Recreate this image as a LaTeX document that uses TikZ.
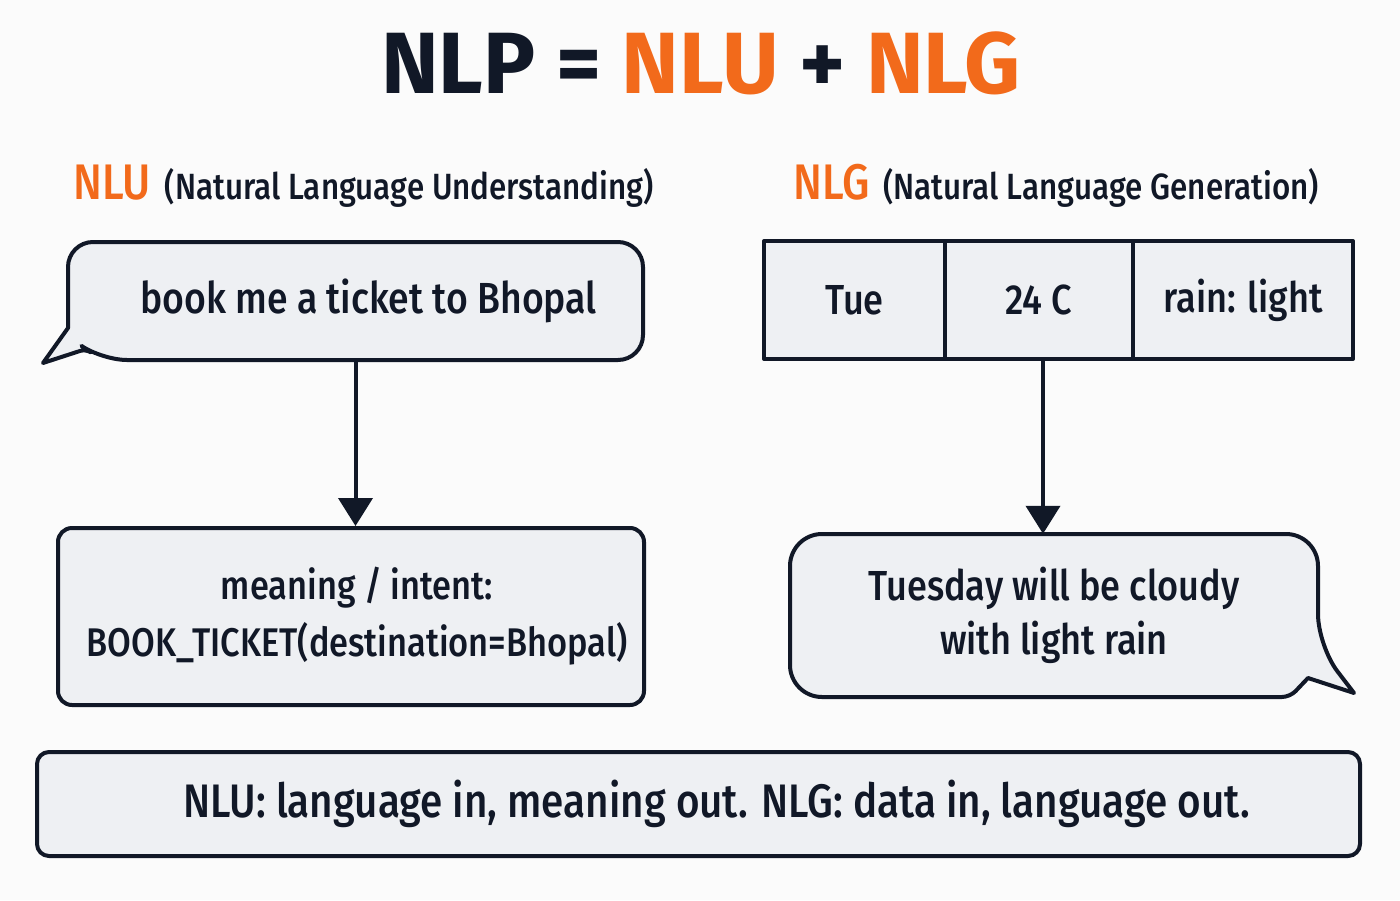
\documentclass[tikz,border=0pt]{standalone}
\usepackage{fontspec}
\setmainfont{Fira Sans}[UprightFont=* Medium, BoldFont=* Bold, FakeStretch=0.86]
\newfontfamily\titlefont{Fira Sans}[UprightFont=* Bold]
\usetikzlibrary{arrows.meta}
\definecolor{ink}{HTML}{111827}
\definecolor{accent}{HTML}{F26A1B}
\definecolor{boxfill}{HTML}{EEF0F3}
\definecolor{paper}{HTML}{FBFBFB}

\begin{document}
\begin{tikzpicture}[x=1pt, y=-1pt,
  every node/.style = {text=ink, inner sep=0pt},
  outline/.style = {draw=ink, line width=4pt, fill=boxfill, line join=round},
  body/.style = {font=\fontsize{42}{54}\selectfont, align=center},
  head/.style = {font=\fontsize{36.5}{48}\selectfont},
  cell/.style = {outline, body, outer sep=0pt, minimum height=118pt},
  flow/.style = {draw=ink, line width=4pt, -{Triangle[width=34pt, length=28pt]}}]
  \fill[paper] (0,0) rectangle (1400,900);
  \node[font=\titlefont\fontsize{87}{90}\selectfont] (title) at (701,63)
    {NLP = \textcolor{accent}{NLU} + \textcolor{accent}{NLG}};
  \node[head, anchor=west] (nluhead) at (73,186)
    {\textcolor{accent}{\fontsize{50}{48}\selectfont NLU}\hspace{6pt} (Natural Language Understanding)};
  \node[head, anchor=west] (nlghead) at (793,186)
    {\textcolor{accent}{\fontsize{50}{48}\selectfont NLG}\hspace{6pt} (Natural Language Generation)};
  \draw[outline] (43,363) -- (68,328) [rounded corners=25] -- (68,242) -- (643,242)
    -- (643,360) -- (102,360) [rounded corners=6] -- (86,349) [sharp corners] -- cycle;
  \node[body, font=\fontsize{43.5}{54}\selectfont, minimum width=575pt, minimum height=118pt] (ask) at (355.5,301)
    {\hspace*{26pt}book me a ticket to Bhopal};
  \node[outline, rounded corners=14, minimum width=586pt, minimum height=177pt] (intent) at (351,616.5) {};
  \node[body, font=\fontsize{40}{57}\selectfont] (intenttext) at ([xshift=6pt]intent)
    {meaning / intent:\\BOOK\_TICKET(destination=Bhopal)};
  \node[cell, minimum width=181pt] (day) at (854.5,300) {Tue};
  \node[cell, minimum width=188pt, anchor=west] (temp) at (day.east) {24 C};
  \node[cell, minimum width=220pt, anchor=west] (rain) at (temp.east) {rain: light};
  \draw[outline] (1354,693) -- (1308,678) [rounded corners=8] -- (1290,697) [rounded corners=32]
    -- (790,697) -- (790,534) -- (1318,534) -- (1318,646) [sharp corners] -- cycle;
  \node[body, minimum width=528pt, minimum height=163pt] (say) at (1054,615.5)
    {Tuesday will be cloudy\\with light rain};
  \node[outline, rounded corners=12, minimum width=1323pt, minimum height=104pt, body,
    font=\fontsize{47}{54}\selectfont] (summary) at (698.5,804)
    {\hspace*{36pt}NLU: language in, meaning out. NLG: data in, language out.};
  \draw[flow] (ask.south) -- (ask.south |- intent.north);
  \draw[flow] ([xshift=4pt]temp.south) -- ([xshift=4pt]temp.south |- say.north);
\end{tikzpicture}
\end{document}
